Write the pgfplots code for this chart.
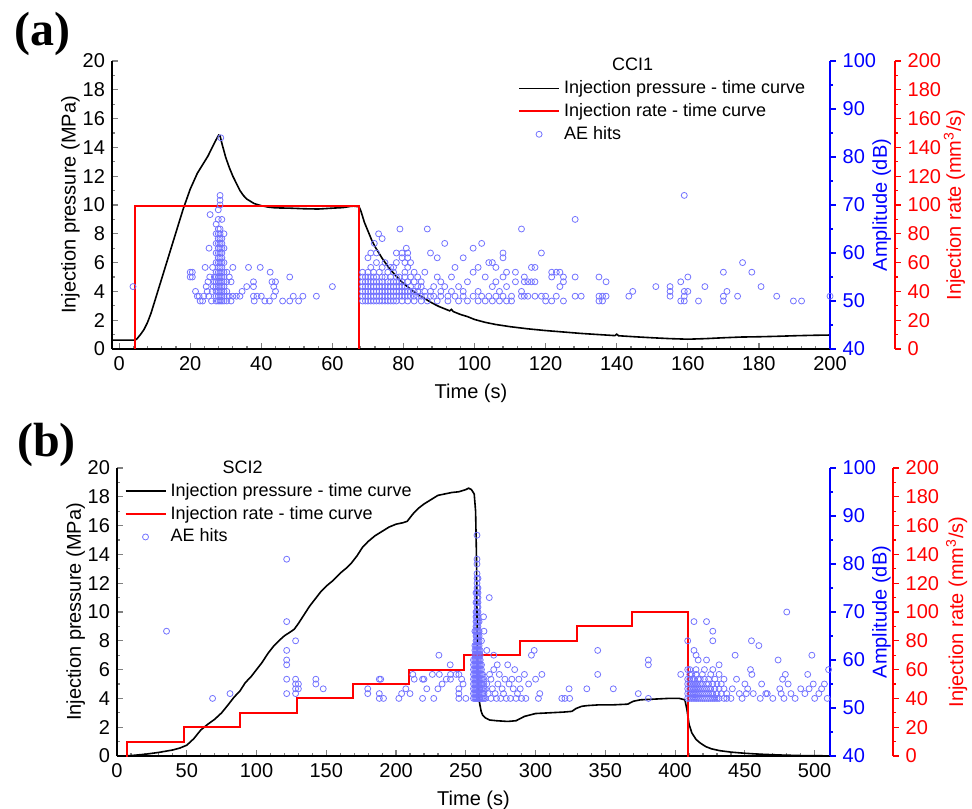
\documentclass[border=0pt]{standalone}
\usepackage{fontspec}
\setmainfont{Liberation Sans}
\newfontfamily\panelfont{Liberation Serif}
\usepackage{pgfplots}
\pgfplotsset{compat=1.18}

\definecolor{aeblue}{RGB}{115,115,255}
\definecolor{axblue}{RGB}{0,0,255}
\definecolor{axred}{RGB}{255,0,0}

\pgfplotsset{
  base/.style={
    scale only axis, height=144pt, anchor=south west,
    /pgf/number format/assume math mode=true,
    every tick label/.append style={font=\fontsize{10}{11}\selectfont},
    label style={font=\fontsize{10}{11}\selectfont},
    major tick length=2.8pt, minor tick length=1.6pt,
    axis line style={line width=0.7pt},
    every tick/.append style={line width=0.6pt},
    legend style={draw=none, fill=none, font=\fontsize{9}{10.5}\selectfont,
      inner sep=0pt, row sep=-0.6pt, cells={anchor=west}},
    legend image code/.code={\draw[mark repeat=2,mark phase=2,##1] plot coordinates {(0pt,0pt) (10pt,0pt) (20pt,0pt)};},
  },
  presax/.style={base, axis x line*=bottom, axis y line*=left, tick align=inside,
    ymin=0, ymax=20, ytick={0,2,...,20}, minor y tick num=1,
    ylabel={Injection pressure (MPa)}, xlabel={Time (s)},
    ylabel style={at={(axis description cs:-0.058,0.5)}, anchor=center}},
  ampax/.style={base, axis y line*=right, axis x line=none, tick align=outside,
    ymin=40, ymax=100, ytick={40,50,...,100}, minor y tick num=1,
    y axis line style={axblue}, ytick style={axblue}, yticklabel style={text=axblue},
    ylabel={Amplitude (dB)},
    ylabel style={text=axblue, at={(axis description cs:1.072,0.5)}, anchor=center}},
  rateax/.style={base, axis y line*=right, axis x line=none, tick align=outside,
    ymin=0, ymax=200, ytick={0,20,...,200}, minor y tick num=1,
    y axis line style={axred}, ytick style={axred}, yticklabel style={text=axred},
    ylabel={Injection rate (mm\textsuperscript{3}/s)}},
  aehits/.style={only marks, mark=o, mark size=1.5pt, color=aeblue, mark options={line width=0.4pt}},
  redline/.style={axred, line width=1pt},
}

\begin{document}
\begin{tikzpicture}
\useasboundingbox (0,0) rectangle (486pt,404pt);

\node[anchor=west] at (3.5pt,387pt) {\panelfont\bfseries\fontsize{24}{26}\selectfont (a)};
\node[anchor=west] at (5pt,181.5pt) {\panelfont\bfseries\fontsize{24}{26}\selectfont (b)};

% ---------------- panel (a) ----------------
\begin{axis}[presax, at={(56pt,229.5pt)}, width=359pt, xmin=-2, xmax=200,
  xtick={0,20,...,200}, minor x tick num=4]
\addplot[black, line width=0.8pt] coordinates {
(-2,0.62) (4.5,0.62) (5,0.7) (6,1.0) (7,1.35) (8,1.85) (9,2.5) (10,3.3) (12,4.9) (14,6.5)
(16,8.1) (18,9.7) (20,11.1) (22,12.2) (24,13.0) (25,13.4) (26,13.9) (27,14.4) (28,14.85)
(28.4,14.8) (29,14.2) (30,13.3) (31,12.6) (32,12.0) (33,11.5) (34,11.0) (35,10.65) (36,10.4)
(38,10.1) (40,9.95) (42,9.85) (44,9.8) (48,9.78) (52,9.74) (56,9.72) (60,9.78) (63,9.82)
(65,9.9) (66,9.92) (67.5,9.88) (68,9.6) (69,8.8) (70,8.2) (71,7.6) (72,7.1) (74,6.3) (76,5.6)
(78,5.05) (80,4.55) (82,4.15) (84,3.8) (86,3.5) (88,3.2) (90,2.95) (93,2.65) (93.5,2.75)
(94,2.6) (96,2.4) (98,2.25) (100,2.05) (103,1.85) (106,1.7) (110,1.55) (115,1.4) (120,1.28)
(125,1.18) (130,1.08) (135,1.0) (139.5,0.93) (140,1.03) (140.5,0.92) (145,0.85) (150,0.78)
(155,0.72) (160,0.68) (165,0.72) (170,0.78) (175,0.83) (180,0.85) (185,0.88) (190,0.92)
(195,0.95) (200,0.97)};
\end{axis}

\begin{axis}[rateax, at={(56pt,229.5pt)}, width=391.5pt, xmin=-2, xmax=218.3,
  ylabel style={text=axred, at={(axis description cs:1.076,0.5)}, anchor=center}]
\addplot[redline] coordinates {(4.5,-1) (4.5,99) (67.6,99) (67.6,-1)};
\end{axis}

\begin{axis}[ampax, at={(56pt,229.5pt)}, width=359pt, xmin=-2, xmax=200,
  legend style={at={(0.565,1.025)}, anchor=north west}]
\addlegendimage{empty legend}\addlegendentry{\hspace{24pt}CCI1}
\addlegendimage{black, line width=0.8pt}\addlegendentry{Injection pressure - time curve}
\addlegendimage{redline}\addlegendentry{Injection rate - time curve}
\addplot[aehits] coordinates {
(3.9,53) (20.0,56) (20.6,56) (20.0,55) (20.6,55) (21.5,52) (22.0,51) (22.5,51) (22.8,50)
(23.5,50) (23.8,51) (24.2,57) (24.5,53) (24.8,52) (25.2,51) (25.6,68) (25.3,61) (25.5,55)
(25.0,54) (26.0,50) (26.2,52) (26.5,53) (26.3,57) (26.8,54) (26.8,55)
(27.3,50) (27.3,51) (27.3,52) (27.3,53) (27.3,54) (27.3,55) (27.3,56) (27.3,58) (27.3,60) (27.3,62) (27.3,64) (27.3,66)
(27.9,50) (27.9,51) (27.9,52) (27.9,53) (27.9,54) (27.9,55) (27.9,56) (27.9,57) (27.9,58) (27.9,59) (27.9,60)
(27.9,61) (27.9,62) (27.9,63) (27.9,64) (27.9,65) (27.9,67) (27.9,69)
(28.4,50) (28.4,51) (28.4,52) (28.4,53) (28.4,54) (28.4,55) (28.4,56) (28.4,57) (28.4,58) (28.4,59) (28.4,60)
(28.4,61) (28.4,62) (28.4,63) (28.4,64) (28.4,65) (28.4,70) (28.4,71) (28.4,72) (28.6,84)
(28.9,50) (28.9,51) (28.9,52) (28.9,53) (28.9,54) (28.9,55) (28.9,56) (28.9,57) (28.9,58) (28.9,59) (28.9,60)
(28.9,61) (28.9,62) (28.9,63) (28.9,67)
(29.5,50) (29.5,51) (29.5,52) (29.5,53) (29.5,54) (29.5,55) (29.5,56) (29.5,58) (29.5,61) (29.5,64)
(30.3,50) (30.3,51) (30.3,52) (30.3,54) (30.3,56) (31.0,55) (31.0,51) (31.5,50) (31.5,54)
(32.0,57) (32.0,51) (33.0,51) (34.0,51) (34.6,52) (35.9,53) (36.4,57) (37.8,54) (37.8,53)
(37.8,51) (38.0,50) (38.8,51) (39.7,57) (40.0,51) (41.0,50) (42.3,50) (42.5,56) (43.0,54)
(43.5,51) (43.5,53) (44.0,54) (44.0,52) (46.0,50) (48.0,55) (48.0,50) (49.0,51) (50.5,50)
(51.7,51) (55.5,51) (60.0,53)
(68.5,50) (68.5,51) (68.5,52) (68.5,53) (68.5,54) (68.5,55) (68.5,56)
(69.3,50) (69.3,51) (69.3,52) (69.3,53) (69.3,54) (69.3,55)
(70.0,50) (70.0,51) (70.0,52) (70.0,53) (70.0,54) (70.0,55) (70.0,56) (70.0,59)
(70.8,50) (70.8,51) (70.8,52) (70.8,53) (70.8,54) (70.8,55) (70.8,57) (70.8,60)
(71.6,50) (71.6,51) (71.6,52) (71.6,53) (71.6,54) (71.6,55) (71.6,56) (71.8,62)
(72.4,50) (72.4,51) (72.4,52) (72.4,53) (72.4,54) (72.4,55) (72.4,58) (72.4,60)
(73.2,50) (73.2,51) (73.2,52) (73.2,53) (73.2,54) (73.2,56) (73.0,64)
(74.0,50) (74.0,51) (74.0,52) (74.0,53) (74.0,54) (74.0,55) (74.0,57) (74.0,63)
(74.8,50) (74.8,51) (74.8,52) (74.8,53) (74.8,55) (74.8,58)
(75.6,50) (75.6,51) (75.6,52) (75.6,53) (75.6,54) (75.6,56)
(76.4,50) (76.4,51) (76.4,52) (76.4,53) (76.4,54) (76.4,55) (76.4,57)
(77.2,50) (77.2,51) (77.2,52) (77.2,53) (77.2,54) (77.2,56) (77.2,57)
(78.0,50) (78.0,51) (78.0,52) (78.0,53) (78.0,54) (78.0,55) (78.0,58) (78.0,60)
(78.8,51) (78.8,52) (78.8,53) (78.8,54) (78.8,55) (79.0,65)
(79.6,50) (79.6,51) (79.6,52) (79.6,53) (79.6,54) (79.6,59) (79.6,60)
(80.4,51) (80.4,52) (80.4,53) (80.4,55) (80.4,56) (80.4,58) (80.8,61)
(81.2,50) (81.2,51) (81.2,52) (81.2,54) (81.2,57) (81.2,59) (81.2,60)
(82.0,51) (82.0,52) (82.0,53) (82.0,55) (82.0,58) (83.0,50) (83.0,51) (83.0,52) (83.0,54) (83.0,56)
(84.0,51) (84.0,52) (84.0,53) (84.0,55) (85.0,50) (85.0,51) (85.0,53) (85.0,54)
(86.0,52) (86.0,51) (86.0,56) (86.7,65) (86.7,50) (87.6,60) (87.6,52) (87.6,51) (88.5,53) (88.5,51)
(89.5,59) (89.5,50) (89.5,55) (90.5,52) (90.5,51) (90.5,54) (91.6,62) (91.6,53) (92.5,51) (92.5,50)
(93.5,55) (93.5,52) (94.5,51) (94.5,57) (95.5,50) (95.5,53) (96.8,59) (96.8,52) (96.8,51) (98,54) (98,50)
(99.6,61) (99.6,51) (99.6,56) (101,52) (101,50) (101,57) (102,62) (102,51) (103,55) (103,50)
(104,58) (104,51) (105,58) (105,53) (105,50) (106,57) (106,51) (106,54) (107,50) (107,52)
(108,60) (108,59) (108,55) (108,51) (109,50) (109,53) (109,56) (110.4,51) (110.4,50) (111.5,56) (111.5,54)
(113.2,65) (113.2,51) (113.2,52) (114,54) (114,55) (114,51) (115,54) (115,51) (116,57) (116,54)
(117,57) (117,54) (117,51) (118.8,60) (118.8,51) (120,51) (120,50) (121.7,56) (121.7,55) (121.7,50)
(123,56) (123,51) (124,56) (124,53) (125,54) (125,50) (125,55) (128.3,67) (128.3,55) (128.3,51) (130,51)
(135,55) (135,51) (135,50) (136,51) (136,50) (137,54) (137,51) (143.4,51) (144.5,52) (151,53)
(155,53) (155,52) (155,51) (158,54) (158,50) (159,72) (159,51) (159,52) (159,50) (160,55) (160,52)
(163,50) (164.8,53) (170,56) (170,51) (170,50) (171,52) (174,51) (175.4,58) (178,56) (180.6,53)
(185,51) (189.7,50) (192,50) (200,51)};
\addlegendentry{AE hits}
\end{axis}

% ---------------- panel (b) ----------------
\begin{axis}[presax, at={(58.5pt,26pt)}, width=356.5pt, xmin=0, xmax=511,
  xtick={0,50,...,500}, minor x tick num=4]
\addplot[black, line width=0.8pt] coordinates {
(5,0) (10,0.03) (20,0.12) (30,0.25) (40,0.42) (45,0.55) (50,0.75) (55,1.2) (60,1.8) (65,2.2)
(70,2.55) (75,3.0) (80,3.6) (84,4.1) (88,4.5) (92,5.1) (96,5.5) (100,6.0) (104,6.5) (108,7.1)
(112,7.6) (116,8.0) (120,8.35) (124,8.6) (127,8.8) (130,9.2) (134,9.8) (138,10.4) (142,10.9)
(146,11.4) (150,11.8) (155,12.2) (160,12.7) (165,13.1) (168,13.4) (172,13.9) (176,14.5)
(180,14.9) (185,15.3) (190,15.6) (195,15.9) (200,16.1) (205,16.2) (208,16.3) (212,16.8)
(216,17.2) (220,17.5) (225,17.8) (230,18.1) (235,18.2) (240,18.3) (245,18.35) (250,18.5)
(252,18.6) (254,18.5) (256,18.2) (257,17.0) (257.6,14) (258,10) (258.4,6) (259,4.3) (260,3.6)
(261,3.1) (262,2.85) (264,2.65) (267,2.5) (272,2.45) (280,2.4) (286,2.45) (289,2.6) (292,2.75)
(296,2.85) (300,2.95) (310,3.0) (320,3.05) (326,3.1) (329,3.3) (333,3.45) (337,3.5) (345,3.55)
(355,3.55) (366,3.6) (370,3.8) (375,3.9) (385,3.95) (395,4.0) (403,4.0) (407,3.9) (408.5,3.2)
(410,2.2) (412,1.6) (415,1.15) (418,0.9) (422,0.65) (426,0.5) (432,0.37) (440,0.27) (450,0.19)
(460,0.13) (475,0.07) (490,0.03) (510,0.01)};
\end{axis}

\begin{axis}[rateax, at={(58.5pt,26pt)}, width=388pt, xmin=0, xmax=556.2,
  ylabel style={text=axred, at={(axis description cs:1.082,0.5)}, anchor=center}]
\addplot[redline] coordinates {
(7,-1) (7,10) (48,10) (48,20) (88,20) (88,30) (129,30) (129,40) (169,40) (169,50) (209,50)
(209,60) (249,60) (249,70) (289,70) (289,80) (330,80) (330,90) (369,90) (369,100) (409,100) (409,-1)};
\end{axis}

\begin{axis}[ampax, at={(58.5pt,26pt)}, width=356.5pt, xmin=0, xmax=511,
  legend style={at={(0.01,1.04)}, anchor=north west}]
\addlegendimage{empty legend}\addlegendentry{\hspace{26pt}SCI2}
\addlegendimage{black, line width=0.8pt}\addlegendentry{Injection pressure - time curve}
\addlegendimage{redline}\addlegendentry{Injection rate - time curve}
\addplot[aehits] coordinates {
(35.5,66) (68.5,52) (81,53) (121.6,81) (121.6,68) (121.6,62) (121.6,60) (121.6,59) (121.6,56)
(121.6,53) (128,64) (128,56) (128,55) (128,54) (128,53) (130,55) (130,54) (142.5,56) (142.5,55)
(147.8,54) (179.7,54) (179.7,53) (188,56) (189,56) (188,53) (188,52) (191,52) (202,52) (204,53)
(207,54) (210,53) (212,57) (213,56) (219,56) (220,56) (219,52) (222,54) (226,57) (227,52)
(230.7,61) (231,57) (230,54) (233,55) (236,56) (238.8,59) (239,57) (239,56) (243,57) (245,57)
(245,54) (245,53) (245,52) (247,56) (248,55) (250,52)
(255.5,52) (255.5,53) (255.5,54) (255.5,55) (255.5,56) (255.5,57) (255.5,58) (255.5,59) (255.5,60)
(256.5,52) (256.5,53) (256.5,54) (256.5,55) (256.5,56) (256.5,57) (256.5,58) (256.5,59) (256.5,60)
(256.5,61) (256.5,62) (256.5,63) (256.5,66)
(257.3,52) (257.3,53) (257.3,54) (257.3,55) (257.3,56) (257.3,57) (257.3,58) (257.3,59) (257.3,60)
(257.3,61) (257.3,62) (257.3,63) (257.3,64) (257.3,65) (257.3,66) (257.3,67) (257.3,68) (257.3,69)
(257.3,70) (257.3,72) (257.3,74)
(258,52) (258,53) (258,54) (258,55) (258,56) (258,57) (258,58) (258,59) (258,60) (258,61) (258,62)
(258,63) (258,64) (258,65) (258,66) (258,67) (258,68) (258,69) (258,70) (258,71) (258,72) (258,73)
(258,74) (258,75) (258,76) (258,77) (258,78) (258,80) (258,81) (258,86)
(258.7,52) (258.7,53) (258.7,54) (258.7,55) (258.7,56) (258.7,57) (258.7,58) (258.7,59) (258.7,60)
(258.7,61) (258.7,62) (258.7,63) (258.7,64) (258.7,65) (258.7,66) (258.7,67) (258.7,68) (258.7,69)
(258.7,70) (258.7,71) (258.7,72) (258.7,73) (258.7,74) (258.7,75) (258.7,77)
(259.5,52) (259.5,53) (259.5,54) (259.5,55) (259.5,56) (259.5,57) (259.5,58) (259.5,59) (259.5,60)
(259.5,61) (259.5,62) (259.5,63) (259.5,64) (259.5,65) (259.5,66) (259.5,68)
(260.3,52) (260.3,53) (260.3,54) (260.3,55) (260.3,56) (260.3,57) (260.3,58) (260.3,59) (260.3,60)
(260.3,61) (260.3,62)
(261.2,52) (261.2,53) (261.2,54) (261.2,55) (261.2,56) (261.2,57) (261.2,58) (261.2,59) (261.2,64)
(262,52) (262,53) (262,54) (262,55) (262,56) (262,57) (262.7,69) (263,52) (263,53) (263,54)
(263,55) (263,56) (263,66)
(264,52) (264,54) (265,62) (265,55) (266,53) (266.8,73) (267,57) (268,52) (268,56) (269,54)
(270,61) (270,58) (271,53) (272,52) (272.5,59) (273,55) (274,57) (275,52) (276,54) (277,53)
(278,56) (279,52) (280,59) (281,55) (282,52) (283,56) (284,54) (285,58) (286,52) (287,53)
(288,56) (289,54) (290,52) (292,57) (293,52) (295,55) (297,61) (299,62) (300,56) (302,52)
(303,53) (304.5,57) (318.8,52) (321,52) (324.4,52) (324,54) (336.7,54) (344.5,57) (344.5,62)
(355.7,54) (373.6,53) (380.8,60) (380.8,59) (380.8,52) (404,57)
(409,52) (409,53) (409,54) (409,55) (409,56) (409,58) (409,64)
(410.5,52) (410.5,53) (410.5,54) (410.5,55) (410.5,56) (410.5,57) (410.5,58)
(412,52) (412,53) (412,54) (412,55) (412,56) (412,57)
(413.5,52) (413.5,53) (413.5,54) (413.5,55) (413.5,56) (413.5,62) (413.5,68)
(415,52) (415,53) (415,54) (415,55) (415,57) (415,61) (415,58)
(416.5,52) (416.5,53) (416.5,54) (416.5,55) (416.5,56) (416.5,60)
(418,52) (418,53) (418,54) (418,55) (418,56) (419.5,52) (419.5,53) (419.5,54) (419.5,55) (419.5,57)
(421,52) (421,53) (421,54) (421,56) (421,58) (422.5,52) (422.5,53) (422.5,54) (422.5,55) (422.5,68) (422.5,60)
(424,52) (424,53) (424,54) (424,55) (424,56) (425.5,52) (425.5,53) (425.5,54) (425.5,57)
(427,52) (427,53) (427,55) (427,66) (427,64) (427,58) (428.5,52) (428.5,54) (428.5,56)
(430,52) (430,53) (430,55) (431.5,52) (431.5,54) (431.5,57) (431.5,59) (433,53) (433,55)
(435,52) (435,54) (435,56) (437,52) (437,53)
(440,52) (441,54) (443,61) (444,56) (446,53) (448,52) (450,55) (451,53) (452,54) (454.7,64)
(454,58) (455,57) (456,53) (460,63) (461,52) (462,55) (465,53) (466,53) (470,52) (473.8,60)
(475,54) (476,53) (477,56) (478,52) (479,57) (480,70) (481,55) (483,53) (486,52) (490,54)
(493,53) (495,57) (496,54) (498,61) (499,55) (500,52) (503,53) (505,54) (507,55) (509,52) (510,58)};
\addlegendentry{AE hits}
\end{axis}
\end{tikzpicture}
\end{document}
